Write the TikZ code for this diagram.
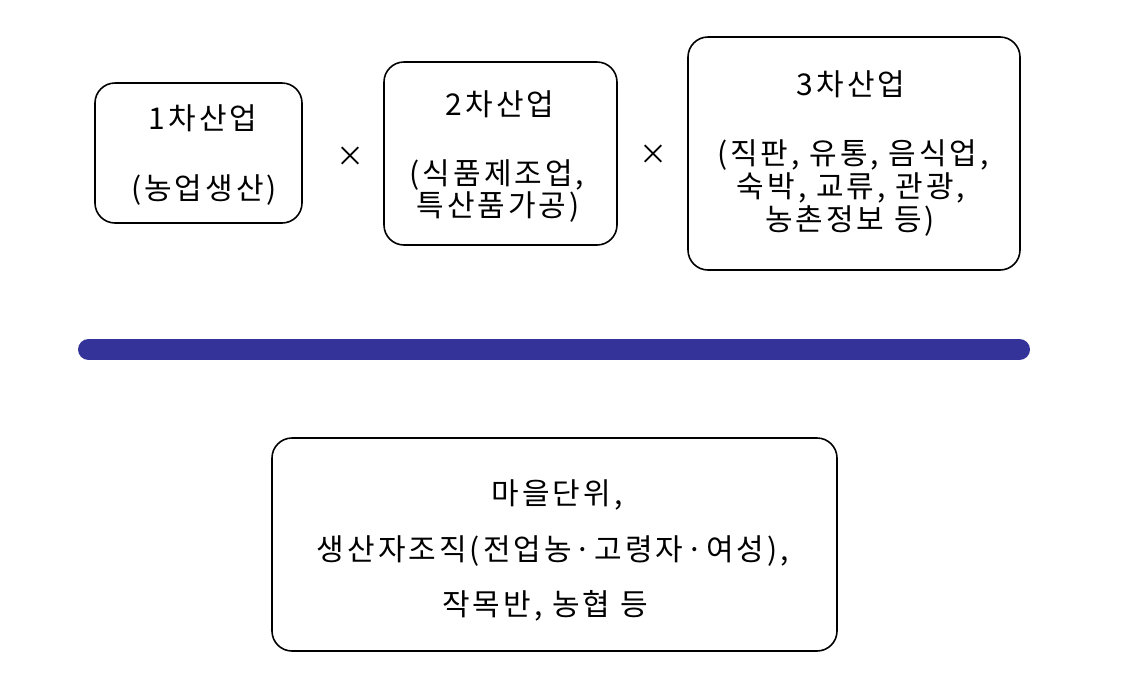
\documentclass[tikz,border=0pt]{standalone}
\usepackage{fontspec}
\setmainfont{Noto Sans CJK KR}
\newfontfamily\kr[LetterSpace=10]{Noto Sans CJK KR}
\definecolor{barblue}{RGB}{51,51,153}
\begin{document}
\begin{tikzpicture}[x=1pt,y=-1pt,
  box/.style={draw=black,line width=1.6pt,rounded corners=20pt,fill=white},
  lbl/.style={font=\kr\fontsize{30}{30}\selectfont,inner sep=0pt,anchor=center},
  times/.style={font=\fontsize{28}{28}\selectfont,inner sep=0pt}]
\useasboundingbox (0,0) rectangle (1146,681);
% boxes
\node[box,minimum width=207pt,minimum height=140pt] (b1) at (198.5,153) {};
\node[box,minimum width=233pt,minimum height=183pt] (b2) at (500.5,153.5) {};
\node[box,minimum width=332pt,minimum height=233pt] (b3) at (854,153.5) {};
\node[box,minimum width=565pt,minimum height=213pt] (b4) at (554.5,544.5) {};
% texts
\node[lbl] (t11) at (203,118) {1차산업};
\node[lbl] (t12) at (204,190) {(농업생산)};
\node[lbl] (t21) at (500,104) {2차산업};
\node[lbl] (t22) at (497,175) {(식품제조업,};
\node[lbl] (t23) at (498,207) {특산품가공)};
\node[lbl] (t31) at (851,84) {3차산업};
\node[lbl] (t32) at (853,155) {(직판, 유통, 음식업,};
\node[lbl] (t33) at (851,188) {숙박, 교류, 관광,};
\node[lbl] (t34) at (850,221) {농촌정보 등)};
\node[lbl] (t41) at (557,495) {마을단위,};
\node[lbl] (t42) at (553,551) {생산자조직(전업농·고령자·여성),};
\node[lbl] (t43) at (545,606) {작목반, 농협 등};
% multiplication signs
\node[times] (x1) at (350,157) {×};
\node[times] (x2) at (653,155) {×};
% bar
\coordinate (barL) at (88.5,349.5);
\coordinate (barR) at (1019.5,349.5);
\draw[barblue,line width=21pt,line cap=round] (barL) -- (barR);
\end{tikzpicture}
\end{document}
